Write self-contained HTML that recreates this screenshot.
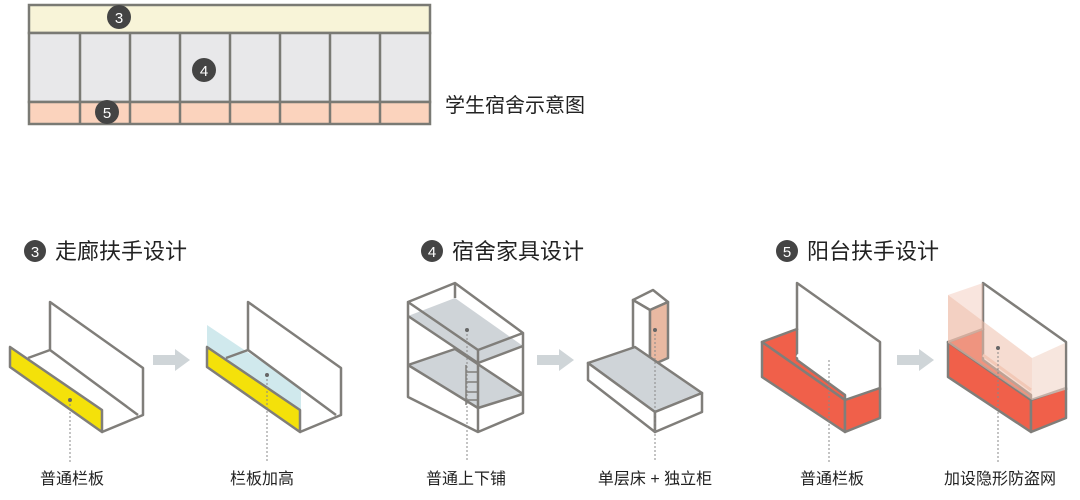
<!DOCTYPE html><html><head><meta charset="utf-8"><style>body{margin:0;background:#fff}svg{display:block}text{font-family:"Liberation Sans","Noto Sans CJK SC",sans-serif;fill:#222}</style></head><body>
<svg width="1080" height="500" viewBox="0 0 1080 500">
<g stroke="#7a7a74" stroke-width="2.5">
<rect x="29" y="5" width="401" height="28" fill="#f8f4d8"/>
<rect x="29" y="33" width="401" height="69" fill="#e8e8ea"/>
<rect x="29" y="102" width="401" height="22" fill="#fbd3bd"/>
<path d="M80 33V124M130 33V124M180 33V124M230 33V124M280 33V124M330 33V124M380 33V124"/>
</g>
<g font-size="15" text-anchor="middle"><circle cx="119" cy="17" r="12" fill="#444"/><text x="119" y="23" style="fill:#fff">3</text>
<circle cx="204" cy="70" r="12" fill="#444"/><text x="204" y="76" style="fill:#fff">4</text>
<circle cx="107" cy="112" r="12" fill="#444"/><text x="107" y="118" style="fill:#fff">5</text></g>
<text x="445" y="112" font-size="20">学生宿舍示意图</text>
<g font-size="15" text-anchor="middle"><circle cx="35" cy="251" r="11" fill="#444"/><text x="35" y="257" style="fill:#fff">3</text>
<circle cx="432" cy="251" r="11" fill="#444"/><text x="432" y="257" style="fill:#fff">4</text>
<circle cx="787" cy="251" r="11" fill="#444"/><text x="787" y="257" style="fill:#fff">5</text></g>
<g font-size="22"><text x="55" y="259">走廊扶手设计</text><text x="452" y="259">宿舍家具设计</text><text x="807" y="259">阳台扶手设计</text></g>
<g fill="#cfd5d8"><path d="M153 355h22v-6l15 11-15 11v-6h-22z"/><path d="M537 355h22v-6l15 11-15 11v-6h-22z"/><path d="M897 355h22v-6l15 11-15 11v-6h-22z"/></g>
<g stroke="#807e7a" stroke-width="2.5" fill="none" stroke-linejoin="round">
<!-- panel 1 -->
<path d="M50 350V302L143 368V415L102 432M28 358L50 350L138 415"/>
<path d="M10 347V367L102 432V410Z" fill="#f4e10a"/>
<!-- panel 2 -->
<path d="M207 325L207 347L301 410L301 388Z" fill="#bcdfe6" fill-opacity=".7" stroke="none"/>
<path d="M248 350V302L341 368V415L300 432M226 358L248 350L336 415"/>
<path d="M207 347V367L300 432V410Z" fill="#f4e10a"/>
<!-- bunk -->
<path d="M408 316L455 298L523 346L478 363Z" fill="#cfd4d8" stroke="none"/>
<path d="M408 365L455 349L523 394L478 408Z" fill="#cfd4d8" stroke="none"/>
<path d="M408 302L455 283L523 333L478 350ZM408 302V397L478 432V350M478 432L523 413V333M455 283V298"/>
<path d="M408 316L478 363L523 346M408 365L455 349L523 394M408 365L478 408L523 394"/>
<path d="M466 365v40M466 372h12M466 382h12M466 392h12M466 400h12" stroke-width="1.5"/>
<!-- bed + cabinet -->
<path d="M633 300L653 290L668 302L650 310Z" fill="#fff"/>
<path d="M633 300V358L650 365V310Z" fill="#fff"/>
<path d="M650 310L668 302V358L650 366Z" fill="#e9b9a2"/>
<path d="M588 363L635 347L702 393L655 412Z" fill="#cfd4d8"/>
<path d="M588 363V380L655 432V412Z" fill="#fff"/>
<path d="M655 412L702 393V412L655 432Z" fill="#fff"/>
<!-- balcony 1 -->
<path d="M797 330V283L880 342V390" fill="#fff"/>
<path d="M762 342L797 329V360L845 395L845 400Z" fill="#f0604a"/>
<path d="M797 355L845 390" stroke="#fff" stroke-width="3"/>
<path d="M762 342L845 400V432L762 377Z" fill="#f0604a"/>
<path d="M845 400L880 388V418L845 432Z" fill="#f0604a"/>
<!-- balcony 2 -->
<path d="M983 330V283L1066 342V390" fill="#fff"/>
<path d="M948 342L983 329V360L1031 395L1031 400Z" fill="#f0604a"/>
<path d="M983 355L1031 390" stroke="#f6d3c4" stroke-width="3"/>
<path d="M948 342L1031 400V432L948 377Z" fill="#f0604a"/>
<path d="M1031 400L1066 388V418L1031 432Z" fill="#f0604a"/>
</g>
<path d="M948 295L1032 358V400L948 343Z" fill="#efbfac" fill-opacity=".55"/>
<path d="M1032 358L1065 343V390L1032 400Z" fill="#f2d6c8" fill-opacity=".6"/>
<path d="M948 295L983 283V330L948 343Z" fill="#efbfac" fill-opacity=".4"/>
<g stroke="#888" stroke-width="1" stroke-dasharray="2,2">
<path d="M70 400V462M267 375V462M467 330V462M655 330V462M829 360V462M998 348V462"/>
</g>
<g fill="#666"><circle cx="70" cy="400" r="2"/><circle cx="267" cy="375" r="2"/><circle cx="467" cy="330" r="2"/><circle cx="655" cy="330" r="2"/><circle cx="998" cy="348" r="2"/></g>
<g font-size="16" text-anchor="middle"><text x="72" y="484">普通栏板</text><text x="262" y="484">栏板加高</text><text x="466" y="484">普通上下铺</text><text x="655" y="484">单层床 + 独立柜</text><text x="832" y="484">普通栏板</text><text x="1000" y="484">加设隐形防盗网</text></g>
</svg></body></html>
